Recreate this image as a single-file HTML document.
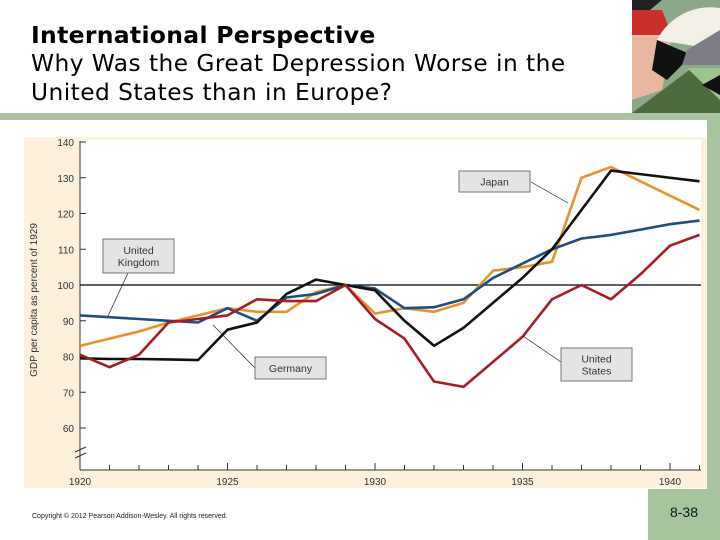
<!DOCTYPE html>
<html><head><meta charset="utf-8">
<style>
body{margin:0;width:720px;height:540px;background:#fff;overflow:hidden;position:relative;font-family:"Liberation Sans",sans-serif}
.t{position:absolute;left:31px;color:#000;white-space:nowrap}
</style></head><body>
<div class="t" style="top:20px;font-weight:bold;font-family:'DejaVu Sans',sans-serif;font-size:23.5px;line-height:30px;letter-spacing:0.3px">International Perspective</div>
<div class="t" style="top:49px;font-family:'DejaVu Sans',sans-serif;font-size:23.3px;line-height:29px;letter-spacing:0.45px">Why Was the Great Depression Worse in the<br>United States than in Europe?</div>
<svg style="position:absolute;left:632px;top:0" width="88" height="113">
<rect width="88" height="113" fill="#8da789"/>
<polygon points="0,0 30,0 0,25" fill="#222"/>
<polygon points="0,10 30,10 40,35 0,35" fill="#c9302c"/>
<polygon points="0,35 40,35 30,90 0,100" fill="#e8b7a0"/>
<path d="M25,40 A60,60 0 0 1 88,8 L88,50 Z" fill="#f2efe6"/>
<polygon points="25,40 60,55 35,80 20,70" fill="#111"/>
<polygon points="55,50 88,30 88,65 50,65" fill="#7e7c84"/>
<polygon points="0,113 60,68 88,70 88,113" fill="#4e6b3e"/>
<polygon points="55,68 88,68 88,100" fill="#9bc48e"/>
<polygon points="70,85 88,75 88,95" fill="#111"/>
</svg>
<div style="position:absolute;left:0;top:113px;width:720px;height:7px;background:#a8c49e"></div>
<div style="position:absolute;left:707px;top:113px;width:13px;height:427px;background:#a8c49e"></div>
<div style="position:absolute;left:648px;top:489px;width:72px;height:51px;background:#a8c49e;font-size:14px;color:#111;text-align:center;line-height:46px">8-38</div>
<div style="position:absolute;left:32px;top:513px;font-size:7px;color:#222">Copyright © 2012 Pearson Addison-Wesley. All rights reserved.</div>
<svg id="chart" style="position:absolute;left:0;top:0" width="720" height="540"></svg>
<script>
const years=[1920,1921,1922,1923,1924,1925,1926,1927,1928,1929,1930,1931,1932,1933,1934,1935,1936,1937,1938,1939,1940,1941];
const germany=[79.5,79.3,79.3,79.2,79,87.5,89.5,97.5,101.5,100,98.5,90,83,88,95,102,110,121,132,null,null,129];
const japan=[83,85,87,89.5,91.5,93.5,92.5,92.5,98,100,92,93.5,92.5,95,104,105,106.5,130,133,null,null,121];
const uk=[91.5,91,90.5,90,89.5,93.5,90,96.5,97.5,100,99,93.5,93.8,96,102,106,110,113,114,115.5,117,118];
const us=[80.5,77,80.5,89.5,90.5,91.5,96,95.5,95.5,100,90.5,85,73,71.5,78.5,85.5,96,100,96,103,111,114];
const yTicks=[60,70,80,90,100,110,120,130,140];
const xTicks=[1920,1925,1930,1935,1940];
const ns="http://www.w3.org/2000/svg";
const svg=document.getElementById('chart');
const X=y=>80+(y-1920)*29.5;
const Y=v=>285-(v-100)*3.575;
function el(t,a,p){const e=document.createElementNS(ns,t);for(const k in a)e.setAttribute(k,a[k]);(p||svg).appendChild(e);return e;}
const bg=el('rect',{x:24,y:137,width:683,height:351,fill:'#fdf1dc'});


const pa=el('rect',{x:80,y:140,width:621,height:330,fill:'#fff'});


const yl=el('line',{x1:80,y1:141,x2:80,y2:470,stroke:'#333','stroke-width':1});


const xl=el('line',{x1:80,y1:470,x2:701,y2:470,stroke:'#333','stroke-width':1});


el('path',{d:'M75,452 L86,447 M75,458 L86,453',stroke:'#333',fill:'none'});
yTicks.forEach(v=>{
  el('line',{x1:80,y1:Y(v),x2:86,y2:Y(v),stroke:'#333'});
  const t=el('text',{x:74,y:Y(v)+4,'text-anchor':'end','font-size':10,fill:'#333','font-family':'Liberation Sans, sans-serif'});
  t.textContent=v;
  
  
});
for(let yr=1920;yr<=1941;yr++){const maj=yr%5===0;el('line',{x1:X(yr),y1:470,x2:X(yr),y2:maj?463:465,stroke:'#333'});}
xTicks.forEach(yr=>{
  const t=el('text',{x:X(yr),y:485,'text-anchor':'middle','font-size':10,fill:'#333','font-family':'Liberation Sans, sans-serif'});
  t.textContent=yr;
  
  
});
const ya=el('text',{transform:'translate(37,300) rotate(-90)','text-anchor':'middle','font-size':10,fill:'#333','font-family':'Liberation Sans, sans-serif'});
ya.textContent='GDP per capita as percent of 1929';


const ref=el('line',{x1:80,y1:Y(100),x2:701,y2:Y(100),stroke:'#000','stroke-width':1.3});


function series(arr,color,name){
  const pts=[];arr.forEach((v,i)=>{if(v!==null)pts.push(X(years[i]).toFixed(1)+','+Y(v).toFixed(1));});
  const p=el('polyline',{points:pts.join(' '),fill:'none',stroke:color,'stroke-width':2.6,'stroke-linejoin':'round'});
  
  
}
series(japan,'#e8922c','line-japan');
series(uk,'#1c4f80','line-uk');
series(germany,'#111','line-germany');
series(us,'#a51e22','line-us');
function label(x,y,w,h,lines,lx1,ly1,lx2,ly2,name){
  el('line',{x1:lx1,y1:ly1,x2:lx2,y2:ly2,stroke:'#222','stroke-width':0.7});
  const r=el('rect',{x:x,y:y,width:w,height:h,fill:'#e4e4e4',stroke:'#777'});
  
  
  lines.forEach((s,i)=>{const t=el('text',{x:x+w/2,y:y+h/2+4+(i-(lines.length-1)/2)*12,'text-anchor':'middle','font-size':10.5,fill:'#333','font-family':'Liberation Sans, sans-serif'});t.textContent=s;});
}
label(103,239,71,34,['United','Kingdom'],128,273,108,316,'label-uk');
label(459,171,71,21,['Japan'],531,182,568,203,'label-japan');
label(255,357,71,22,['Germany'],255,368,213,325,'label-germany');
label(561,348,71,33,['United','States'],561,362,523,336,'label-us');
</script>
</body></html>
